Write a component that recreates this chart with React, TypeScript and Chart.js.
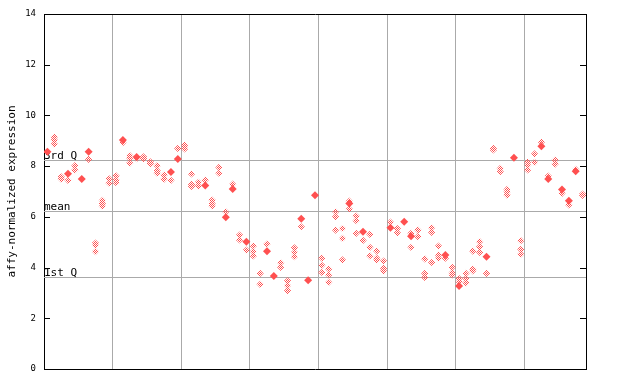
import React, { useEffect, useRef } from 'react';
import { Chart, registerables } from 'chart.js';

Chart.register(...registerables);

// number of sample columns on the x axis
const columnCount = 79;
// group separators (column index)
const groupBoundaries = [10, 20, 30, 40, 50, 60, 70];
// y tick values
const yTicks = [0, 2, 4, 6, 8, 10, 12, 14];
// reference lines
const refLabels = ['3rd Q', 'mean', '1st Q'];
const refValues = [8.24, 6.22, 3.62];
const yTitle = 'affy-normalized expression';

// replicate values per column (open diamonds)
const hollowValues: number[][] = [
  [], [9.15, 9.03, 8.87], [7.58, 7.49], [7.44], [8.02, 7.85], [], [8.27], [4.97, 4.88, 4.63], [6.65, 6.53, 6.42], [7.5, 7.33],
  [7.62, 7.45, 7.35], [8.93], [8.42, 8.32, 8.12], [8.3], [8.37, 8.3], [8.17, 8.1], [8.02, 7.82, 7.72], [7.65, 7.49], [7.44], [8.7],
  [8.83, 8.77, 8.68], [7.69, 7.28, 7.2], [7.36, 7.22], [7.45], [6.66, 6.53, 6.43], [7.95, 7.72], [6.2], [7.29], [5.28, 5.09], [4.69],
  [4.85, 4.63, 4.46], [3.77, 3.34], [4.93], [], [4.19, 4.01], [3.48, 3.29, 3.09], [4.78, 4.6, 4.43], [5.61], [], [],
  [4.37, 4.09, 3.81], [3.94, 3.71, 3.42], [6.2, 6.0, 5.48], [5.54, 5.15, 4.3], [6.62, 6.31], [6.03, 5.85, 5.35], [5.07], [5.31, 4.8, 4.46], [4.65, 4.37, 4.3], [4.26, 3.97, 3.86],
  [5.79], [5.54, 5.37], [], [5.35, 4.8], [5.48, 5.22], [4.34, 3.77, 3.61], [5.57, 5.39, 4.2], [4.85, 4.5, 4.37], [4.37], [4.01, 3.8, 3.71],
  [3.57, 3.44], [3.77, 3.57, 3.4], [4.65, 3.94, 3.87], [5.02, 4.82, 4.6], [3.77], [8.7, 8.64], [7.91, 7.78], [7.08, 6.99, 6.86], [], [5.06, 4.72, 4.53],
  [8.16, 8.04, 7.85], [8.48, 8.15], [8.95], [7.61], [8.24, 8.08], [6.93], [6.47], [7.87], [6.9, 6.85],
];

// overlapping replicates (solid diamonds)
const filledValues: number[][] = [
  [8.57], [], [], [7.7], [], [7.49], [8.57], [], [], [],
  [], [9.03], [], [8.36], [], [], [], [], [7.77], [8.28],
  [], [], [], [7.24], [], [], [5.98], [7.1], [], [5.02],
  [], [], [4.64], [3.67], [], [], [], [5.93], [3.5], [6.85],
  [], [], [], [], [6.53], [], [5.41], [], [], [],
  [5.57], [], [5.81], [5.24], [], [], [], [], [4.5], [],
  [3.27], [], [], [], [4.43], [], [], [], [8.33], [],
  [], [], [8.78], [7.49], [], [7.08], [6.64], [7.8], [],
];

const RED = '#ff5050';
const GRID = '#aaaaaa';
const MONO = '"DejaVu Sans Mono", monospace';

function toPoints(vals: number[][]) {
  const out: { x: number; y: number }[] = [];
  vals.forEach((arr, i) => arr.forEach((v) => out.push({ x: i + 0.5, y: v })));
  return out;
}

export default function App() {
  const ref = useRef<HTMLCanvasElement | null>(null);

  useEffect(() => {
    const canvas = ref.current;
    if (!canvas) return;

    const pc = document.createElement('canvas');
    pc.width = 2;
    pc.height = 2;
    const pctx = pc.getContext('2d')!;
    pctx.fillStyle = RED;
    pctx.fillRect(0, 0, 1, 1);
    pctx.fillRect(1, 1, 1, 1);
    const ctx0 = canvas.getContext('2d')!;
    const pattern = ctx0.createPattern(pc, 'repeat')!;

    const decor = {
      id: 'decor',
      beforeDatasetsDraw(chart: any) {
        const { ctx, chartArea, scales } = chart;
        const y = scales.y;
        ctx.save();
        ctx.strokeStyle = GRID;
        ctx.lineWidth = 1;
        refValues.forEach((v) => {
          const py = Math.round(y.getPixelForValue(v)) + 0.5;
          ctx.beginPath();
          ctx.moveTo(chartArea.left, py);
          ctx.lineTo(chartArea.right, py);
          ctx.stroke();
        });
        ctx.fillStyle = '#000';
        ctx.font = '11px ' + MONO;
        ctx.textAlign = 'left';
        ctx.textBaseline = 'alphabetic';
        refValues.forEach((v, i) => {
          const py = Math.round(y.getPixelForValue(v));
          ctx.fillText(refLabels[i], chartArea.left, py - 1);
        });
        ctx.restore();
      },
      afterDraw(chart: any) {
        const { ctx, chartArea, scales } = chart;
        const y = scales.y;
        ctx.save();
        ctx.strokeStyle = '#000';
        ctx.lineWidth = 1;
        // top frame line
        ctx.beginPath();
        ctx.moveTo(chartArea.left, Math.round(chartArea.top) + 0.5);
        ctx.lineTo(chartArea.right + 1, Math.round(chartArea.top) + 0.5);
        ctx.stroke();
        // inner ticks
        yTicks.forEach((t) => {
          const py = Math.round(y.getPixelForValue(t)) + 0.5;
          ctx.beginPath();
          ctx.moveTo(chartArea.left, py);
          ctx.lineTo(chartArea.left + 6, py);
          ctx.moveTo(chartArea.right, py);
          ctx.lineTo(chartArea.right - 6, py);
          ctx.stroke();
        });
        // y title
        ctx.fillStyle = '#000';
        ctx.font = '11px ' + MONO;
        ctx.translate(12, (chartArea.top + chartArea.bottom) / 2);
        ctx.rotate(-Math.PI / 2);
        ctx.textAlign = 'center';
        ctx.textBaseline = 'middle';
        ctx.fillText(yTitle, 0, 0);
        ctx.restore();
      },
    };

    const chart = new Chart(canvas, {
      type: 'scatter',
      data: {
        datasets: [
          {
            data: toPoints(hollowValues),
            pointStyle: 'rectRot',
            pointRadius: 3.6,
            pointBackgroundColor: pattern as any,
            pointBorderWidth: 0,
            pointHoverRadius: 3.6,
          },
          {
            data: toPoints(filledValues),
            pointStyle: 'rectRot',
            pointRadius: 4,
            pointBackgroundColor: RED,
            pointBorderWidth: 0,
            pointHoverRadius: 4,
          },
        ],
      },
      options: {
        animation: false,
        responsive: false,
        maintainAspectRatio: false,
        layout: { padding: { top: 14, left: 0, right: 0, bottom: 0 } },
        plugins: { legend: { display: false }, tooltip: { enabled: false } },
        scales: {
          x: {
            type: 'linear',
            min: 0,
            max: columnCount,
            afterBuildTicks: (s: any) => {
              s.ticks = groupBoundaries.map((v) => ({ value: v }));
            },
            ticks: { display: false },
            grid: { color: GRID, lineWidth: 1, drawTicks: false },
            border: { display: true, color: '#000', width: 1 },
            afterFit: (s: any) => {
              s.height = 15;
            },
          },
          y: {
            min: 0,
            max: 14,
            afterBuildTicks: (s: any) => {
              s.ticks = yTicks.map((v) => ({ value: v }));
            },
            ticks: { color: '#000', font: { family: MONO, size: 9 }, padding: 8 },
            grid: { display: false, drawTicks: false },
            border: { display: true, color: '#000', width: 1 },
            afterFit: (s: any) => {
              s.width = 44;
            },
          },
          y2: {
            position: 'right',
            min: 0,
            max: 14,
            ticks: { display: false },
            grid: { display: false, drawTicks: false },
            border: { display: true, color: '#000', width: 1 },
            afterFit: (s: any) => {
              s.width = 54;
            },
          },
        },
      } as any,
      plugins: [decor],
    });

    return () => chart.destroy();
  }, []);

  return (
    <div style={{ position: 'fixed', left: 0, top: 0, width: 640, height: 384, background: '#fff' }}>
      <canvas ref={ref} width={640} height={384} style={{ width: 640, height: 384 }} />
    </div>
  );
}
